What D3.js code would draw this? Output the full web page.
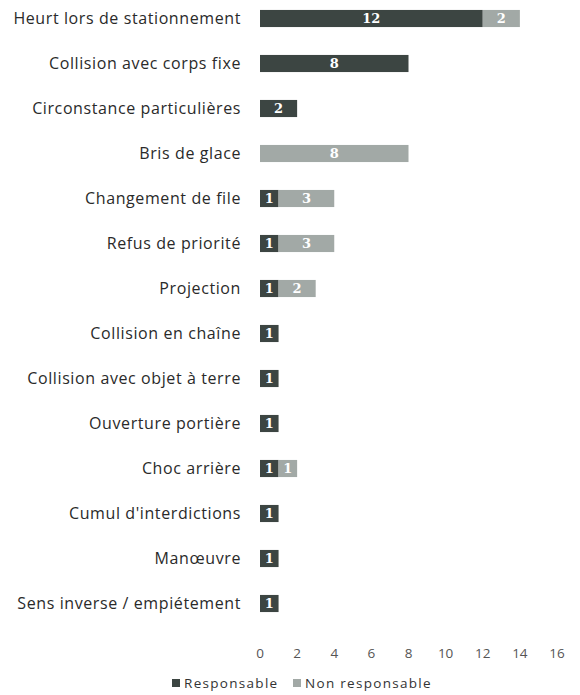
<!DOCTYPE html>
<html>
<head>
<meta charset="utf-8">
<script src="https://cdn.jsdelivr.net/npm/d3@7"></script>
<style>
  body { margin: 0; background: #fff; }
  svg { display: block; }
</style>
</head>
<body>
<svg id="chart" width="580" height="695"></svg>
<script>
// Categories, top to bottom
const categories = [
  'Heurt lors de stationnement',
  'Collision avec corps fixe',
  'Circonstance particulières',
  'Bris de glace',
  'Changement de file',
  'Refus de priorité',
  'Projection',
  'Collision en chaîne',
  'Collision avec objet à terre',
  'Ouverture portière',
  'Choc arrière',
  "Cumul d'interdictions",
  'Manœuvre',
  'Sens inverse / empiétement'
];
const responsable    = [12, 8, 2, 0, 1, 1, 1, 1, 1, 1, 1, 1, 1, 1];
const nonResponsable = [2, 0, 0, 8, 3, 3, 2, 0, 0, 0, 1, 0, 0, 0];
const seriesNames = ['Responsable', 'Non responsable'];
const xTicks = [0, 2, 4, 6, 8, 10, 12, 14, 16];

const colours = ['#3c4542', '#a2a9a6'];

const svg = d3.select('#chart');

// Scales
const x = d3.scaleLinear().domain([0, 16]).range([260, 557]);
const y = d3.scaleBand()
  .domain(categories)
  .range([-4, 626])
  .paddingInner(0.62)
  .paddingOuter(0.31);

// Build stacked rows
const rows = categories.map((c, i) => ({
  cat: c,
  Responsable: responsable[i],
  'Non responsable': nonResponsable[i]
}));
const stack = d3.stack().keys(seriesNames)(rows);

// Category labels
svg.append('g')
  .selectAll('text')
  .data(categories)
  .join('text')
  .attr('x', 241)
  .attr('y', d => y(d) + y.bandwidth() / 2)
  .attr('dy', '0.35em')
  .attr('text-anchor', 'end')
  .attr('font-family', 'Open Sans, sans-serif')
  .attr('font-size', 16)
  .attr('letter-spacing', 0.6)
  .attr('fill', '#2a2a2a')
  .text(d => d);

// Bars
const layers = svg.append('g')
  .selectAll('g')
  .data(stack)
  .join('g')
  .attr('fill', (d, i) => colours[i]);

layers.selectAll('rect')
  .data(d => d.filter(s => s[1] - s[0] > 0))
  .join('rect')
  .attr('x', d => x(d[0]))
  .attr('width', d => x(d[1]) - x(d[0]))
  .attr('y', d => y(d.data.cat))
  .attr('height', y.bandwidth());

// Value labels inside the segments
layers.selectAll('text')
  .data(d => d.filter(s => s[1] - s[0] > 0))
  .join('text')
  .attr('x', d => (x(d[0]) + x(d[1])) / 2)
  .attr('y', d => y(d.data.cat) + y.bandwidth() / 2)
  .attr('dy', '0.36em')
  .attr('text-anchor', 'middle')
  .attr('font-family', 'DejaVu Serif, serif')
  .attr('font-weight', 'bold')
  .attr('font-size', 13)
  .attr('fill', '#fff')
  .text(d => d[1] - d[0]);

// X axis tick labels (no line)
svg.append('g')
  .selectAll('text')
  .data(xTicks)
  .join('text')
  .attr('x', d => x(d))
  .attr('y', 653)
  .attr('dy', '0.35em')
  .attr('text-anchor', 'middle')
  .attr('font-family', 'Open Sans, sans-serif')
  .attr('font-size', 13.5)
  .attr('fill', '#555')
  .text(d => d);

// Legend
const legend = svg.append('g').attr('transform', 'translate(172,683)');
const legendX = [0, 121];
const item = legend.selectAll('g')
  .data(seriesNames)
  .join('g')
  .attr('transform', (d, i) => `translate(${legendX[i]},0)`);
item.append('rect')
  .attr('x', 0)
  .attr('y', -4)
  .attr('width', 8)
  .attr('height', 8)
  .attr('fill', (d, i) => colours[i]);
item.append('text')
  .attr('x', 12)
  .attr('y', 0)
  .attr('dy', '0.35em')
  .attr('font-family', 'Open Sans, sans-serif')
  .attr('font-size', 13.5)
  .attr('letter-spacing', 1.3)
  .attr('fill', '#333')
  .text(d => d);
</script>
</body>
</html>
